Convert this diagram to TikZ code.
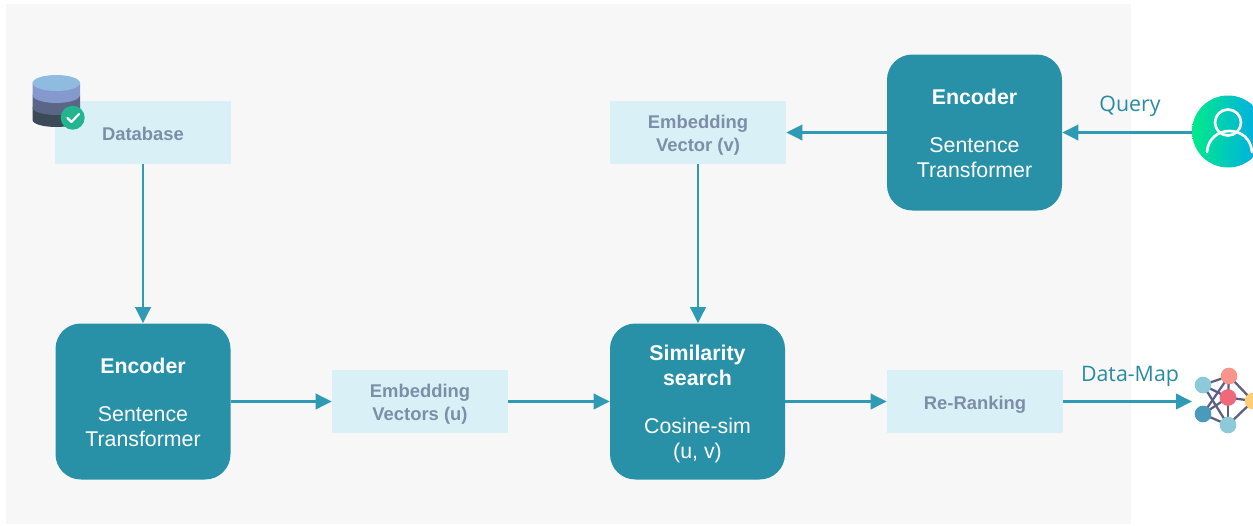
\documentclass[tikz,border=0pt]{standalone}
\usepackage{fontspec}
\setmainfont{Liberation Sans}
\newfontfamily\labelfont{Open Sans}
\usetikzlibrary{arrows.meta,calc}
\definecolor{panelgrey}{HTML}{F7F7F7}
\definecolor{tealbox}{HTML}{2891A8}
\definecolor{palebox}{HTML}{D9F1F6}
\definecolor{arrowteal}{HTML}{2E9AB3}
\definecolor{greytext}{HTML}{7C8EA8}
\definecolor{linkcol}{HTML}{5E5F85}
\definecolor{dbtop}{HTML}{8FBBE0}
\definecolor{dbtwo}{HTML}{8699CC}
\definecolor{dbthree}{HTML}{5B6585}
\definecolor{dbfour}{HTML}{3C4A57}
\definecolor{badge}{HTML}{22B58F}
\definecolor{gradleft}{HTML}{00EA8A}
\definecolor{gradright}{HTML}{00A8EC}
\definecolor{netaqua}{HTML}{8CC9D9}
\definecolor{netsalmon}{HTML}{F8958A}
\definecolor{netred}{HTML}{F0697A}
\definecolor{netyellow}{HTML}{FFCE73}
\definecolor{netblue}{HTML}{4A9BBB}
\newcommand{\pull}[1]{\rule{0pt}{#1pt}}
\tikzset{
  x=0.75pt,y=-0.75pt,
  tealnode/.style={draw=none,fill=tealbox,rounded corners=19pt,minimum width=131.25pt,minimum height=117pt,text=white,align=center,inner sep=0pt,font=\fontsize{16}{18.8}\selectfont},
  palenode/.style={draw=none,fill=palebox,minimum width=132pt,minimum height=47.25pt,text=greytext,align=center,inner sep=0pt,font=\fontsize{13.8}{17}\selectfont\bfseries},
  flow/.style={draw=arrowteal,line width=1.9pt,-{Triangle[length=12pt,width=11.5pt]}},
  outlabel/.style={text=arrowteal!90!black,inner sep=0pt,font=\labelfont\fontsize{16}{18}\selectfont},
  netnode/.style={circle,draw=none,minimum size=12.5pt,inner sep=0pt},
  netlink/.style={draw=linkcol,line width=1.7pt},
}
\begin{document}
\begin{tikzpicture}
\useasboundingbox (0,0) rectangle (1253,525);
\clip (0,0) rectangle (1253,525);
\fill[panelgrey] (6,4) rectangle (1131,524);

% boxes
\node[palenode] (db) at (143,132.5) {\pull{11.5}Database};
\node[palenode] (vecv) at (698,132.5) {\pull{14.5}Embedding\\Vector (v)};
\node[palenode] (vecu) at (420,401.5) {\pull{14.5}Embedding\\Vectors (u)};
\node[palenode] (rerank) at (975,401.5) {\pull{14.5}Re-Ranking};
\node[tealnode] (enctop) at (974.5,132.5) {\pull{13}\textbf{Encoder}\\[17pt]Sentence\\Transformer};
\node[tealnode] (encleft) at (143,401.5) {\pull{13}\textbf{Encoder}\\[17pt]Sentence\\Transformer};
\node[tealnode] (sim) at (697.5,401.5) {\pull{15.5}\textbf{Similarity}\\\textbf{search}\\[17.5pt]Cosine-sim\\(u, v)};

% database icon
\fill[dbfour] (32.5,107) -- (32.5,120) arc[x radius=23.75,y radius=7,start angle=180,end angle=0] -- (80,107) -- cycle;
\fill[dbthree] (32.5,95) -- (32.5,107.5) arc[x radius=23.75,y radius=7.5,start angle=180,end angle=0] -- (80,95) -- cycle;
\fill[dbtwo] (32.5,83) -- (32.5,95) arc[x radius=23.75,y radius=8,start angle=180,end angle=0] -- (80,83) -- cycle;
\fill[dbtop] (56.25,83) ellipse[x radius=23.75,y radius=8];
\fill[badge] (72.7,117.7) circle[radius=12];
\draw[white,line width=1.6pt,line cap=round,line join=round] (67.5,118) -- (71.5,122) -- (79,114);

% user icon
\node[circle,draw=none,minimum size=54pt,inner sep=0pt,left color=gradleft,right color=gradright] (user) at (1228,131.5) {};
\draw[white,line width=2pt] (1228,122.5) circle[radius=13];
\draw[white,line width=2pt,line cap=round] (1207,152) .. controls (1209,124) and (1250,124) .. (1252,152);
\coordinate (userport) at (user.west |- enctop.east);

% network icon
\coordinate (n1c) at (1203,385);
\coordinate (n2c) at (1229,376);
\coordinate (n3c) at (1228,397.5);
\coordinate (n4c) at (1253,401);
\coordinate (n5c) at (1203,414);
\coordinate (n6c) at (1228,425);
\foreach \a/\b in {n1c/n2c,n1c/n3c,n1c/n6c,n2c/n3c,n2c/n4c,n2c/n5c,n3c/n4c,n3c/n5c,n3c/n6c,n4c/n6c,n5c/n6c}{
  \draw[netlink] (\a) -- (\b);
}
\node[netnode,fill=netaqua] (n1) at (n1c) {};
\node[netnode,fill=netsalmon] (n2) at (n2c) {};
\node[netnode,fill=netred] (n3) at (n3c) {};
\node[netnode,fill=netyellow] (n4) at (n4c) {};
\node[netnode,fill=netblue] (n5) at (n5c) {};
\node[netnode,fill=netaqua] (n6) at (n6c) {};
\coordinate (netport) at (1192,401.5);

% connectors
\draw[flow] (db.south) -- (encleft.north);
\draw[flow] (encleft.east) -- (vecu.west);
\draw[flow] (vecu.east) -- (sim.west);
\draw[flow] (sim.east) -- (rerank.west);
\draw[flow] (rerank.east) -- (netport);
\draw[flow] (vecv.south) -- (vecv.south |- sim.north);
\draw[flow] (enctop.west) -- (vecv.east);
\draw[flow] (userport) -- (enctop.east);

% labels
\node[outlabel] (query) at (1130,106) {Query};
\node[outlabel] (datamap) at (1130,376) {Data-Map};
\end{tikzpicture}
\end{document}
